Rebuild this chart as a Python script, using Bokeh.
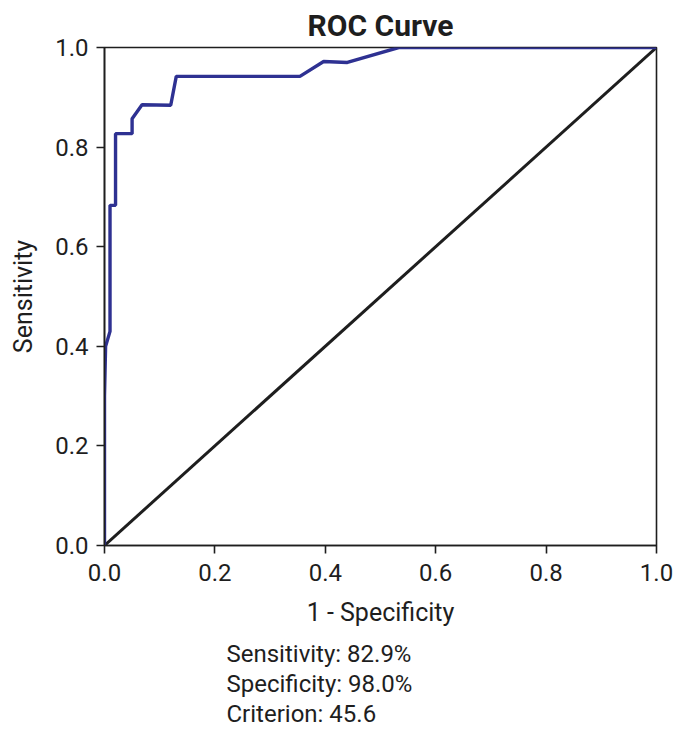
from bokeh.plotting import figure
from bokeh.models import Range1d, FixedTicker, PrintfTickFormatter, Title
from bokeh.embed import file_html
from bokeh.resources import INLINE

# ROC curve points
fpr = [0.0, 0.0, 0.002, 0.01, 0.01, 0.02, 0.02, 0.05, 0.05, 0.068, 0.12, 0.13, 0.354, 0.397, 0.44, 0.533, 1.0]
tpr = [0.0, 0.30, 0.40, 0.43, 0.683, 0.683, 0.827, 0.827, 0.857, 0.885, 0.884, 0.942, 0.942, 0.972, 0.970, 1.0, 1.0]
diag_x = [0.0, 1.0]
diag_y = [0.0, 1.0]
ticks = [0.0, 0.2, 0.4, 0.6, 0.8, 1.0]
stat_names = ["Sensitivity", "Specificity", "Criterion"]
stat_values = ["82.9%", "98.0%", "45.6"]

FONT = "Roboto"
TXT = "#1e1e1e"

p = figure(width=689, height=729, output_backend="svg", toolbar_location=None,
           x_range=Range1d(0, 1), y_range=Range1d(0, 1),
           min_border_left=104, min_border_right=33, min_border_top=46, min_border_bottom=184,
           title="ROC Curve")
p.title.text_font = FONT
p.title.text_font_size = "30px"
p.title.text_font_style = "bold"
p.title.text_color = TXT
p.title.align = "center"

p.outline_line_color = TXT
p.outline_line_width = 1.6
p.xgrid.visible = False
p.ygrid.visible = False
p.background_fill_color = "white"
p.border_fill_color = "white"

for ax in (p.xaxis[0], p.yaxis[0]):
    ax.ticker = FixedTicker(ticks=ticks)
    ax.formatter = PrintfTickFormatter(format="%.1f")
    ax.axis_line_color = TXT
    ax.axis_line_width = 1.6
    ax.major_tick_line_color = TXT
    ax.major_tick_line_width = 1.6
    ax.major_tick_out = 8
    ax.major_tick_in = 0
    ax.minor_tick_line_color = None
    ax.major_label_text_font = FONT
    ax.major_label_text_font_size = "24px"
    ax.major_label_text_color = TXT
    ax.axis_label_text_font = FONT
    ax.axis_label_text_font_size = "25px"
    ax.axis_label_text_font_style = "normal"
    ax.axis_label_text_color = TXT

p.xaxis.axis_label = "1 - Specificity"
p.yaxis.axis_label = "Sensitivity"
p.xaxis.major_label_standoff = 10
p.yaxis.major_label_standoff = 8
p.xaxis.axis_label_standoff = 14
p.yaxis.axis_label_standoff = 14

p.line(diag_x, diag_y, line_color="#1e1e1e", line_width=3)
p.line(fpr, tpr, line_color="#2e3192", line_width=3.4)

# small spacer between axis label and the statistics block
p.add_layout(Title(text=" ", text_font_size="5px", standoff=0), "below")
for i, (n, v) in enumerate(zip(stat_names, stat_values)):
    t = Title(text=f"{n}: {v}", text_font=FONT, text_font_size="24px",
              text_font_style="normal", text_color=TXT, align="left",
              offset=122, standoff=0)
    p.add_layout(t, "below")

open("out.html", "w").write(file_html(p, INLINE))
